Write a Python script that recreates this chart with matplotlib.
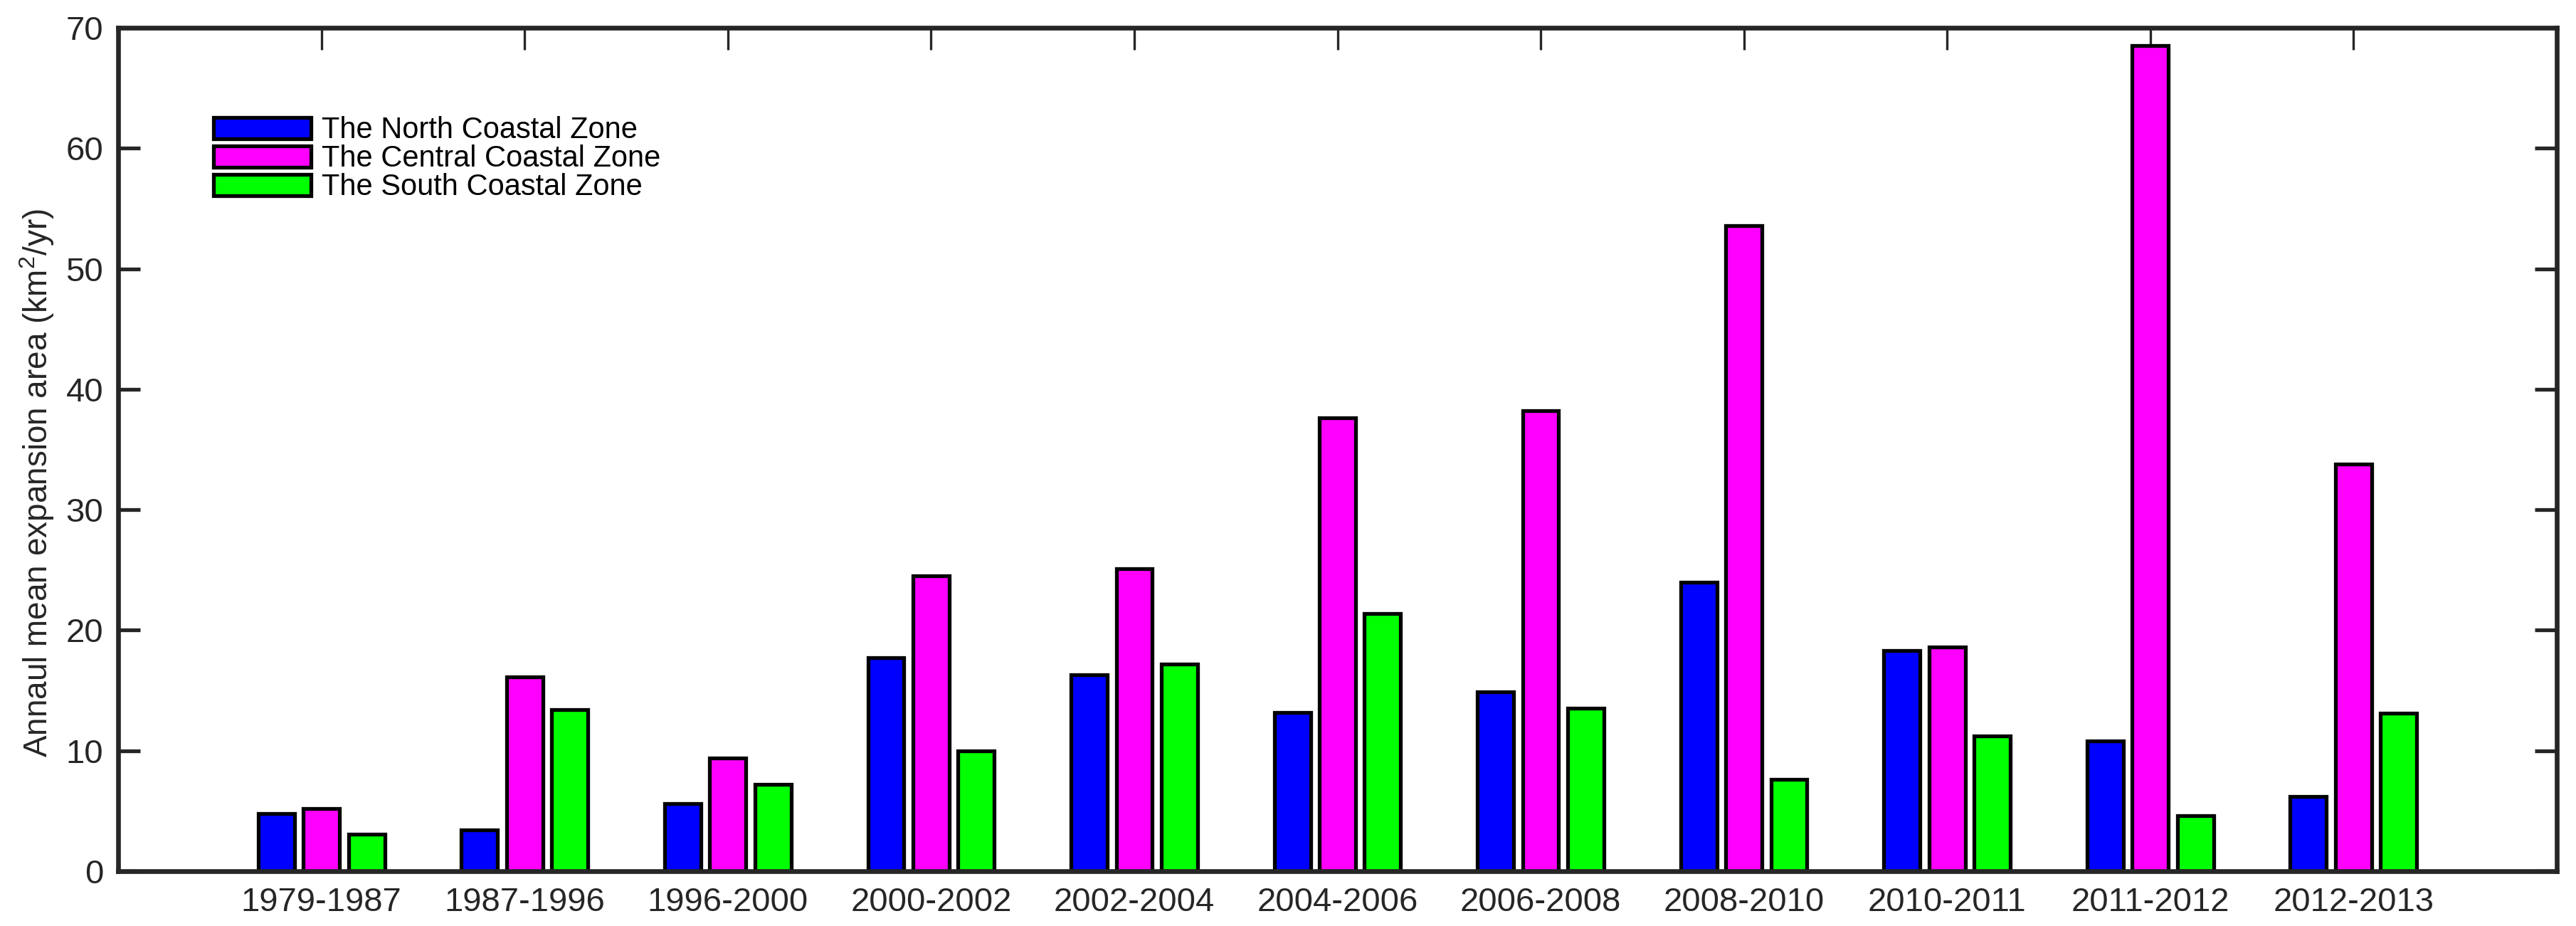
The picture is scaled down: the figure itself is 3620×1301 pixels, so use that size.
import matplotlib
matplotlib.use("Agg")
import matplotlib.pyplot as plt
import numpy as np

plt.rcParams['font.family'] = ['Liberation Sans', 'DejaVu Sans']
plt.rcParams['mathtext.fontset'] = 'custom'
plt.rcParams['mathtext.rm'] = 'Liberation Sans'
plt.rcParams['mathtext.it'] = 'Liberation Sans:italic'

# annual mean expansion area per period (km2/yr)
periods = ['1979-1987', '1987-1996', '1996-2000', '2000-2002', '2002-2004', '2004-2006',
           '2006-2008', '2008-2010', '2010-2011', '2011-2012', '2012-2013']
north = [4.8, 3.4, 5.6, 17.7, 16.3, 13.2, 14.9, 24.0, 18.3, 10.8, 6.2]
central = [5.2, 16.1, 9.4, 24.5, 25.1, 37.6, 38.2, 53.6, 18.6, 68.5, 33.8]
south = [3.1, 13.4, 7.2, 10.0, 17.2, 21.4, 13.5, 7.6, 11.2, 4.6, 13.1]
zones = ['The North Coastal Zone', 'The Central Coastal Zone', 'The South Coastal Zone']
cols = ['#0000ff', '#ff00ff', '#00ff00']

axcol = '#262626'

fig = plt.figure(figsize=(36.2, 13.01), dpi=100)
ax = fig.add_axes([0.0459, 0.0592, 0.9466, 0.9108])

x = np.arange(1, len(periods) + 1)
step = 0.222
w = 0.178
for k, (vals, c, lab) in enumerate(zip([north, central, south], cols, zones)):
    ax.bar(x + (k - 1) * step, vals, w, color=c, edgecolor='black', linewidth=3.8, label=lab, zorder=2)

ax.set_xlim(0, 12)
ax.set_ylim(0, 70)
ax.set_xticks(x)
ax.set_xticklabels(periods)
ax.set_yticks(np.arange(0, 71, 10))
ax.set_axisbelow(True)

for s in ax.spines.values():
    s.set_color(axcol)
    s.set_linewidth(4.8)
    s.set_zorder(3)

ax.tick_params(axis='x', direction='in', top=True, bottom=True, length=22, width=2.4,
               color=axcol, labelcolor=axcol, labelsize=34, pad=16)
ax.tick_params(axis='y', direction='in', left=True, right=True, length=22, width=3.8,
               color=axcol, labelcolor=axcol, labelsize=34, pad=15)

ax.set_ylabel('Annaul mean expansion area (km$^2$/yr)', fontsize=33, color=axcol)
ax.yaxis.set_label_coords(-0.0255, 0.46)

leg = ax.legend(loc='upper left', bbox_to_anchor=(0.039, 0.895), frameon=False, fontsize=30,
                handlelength=3.3, handleheight=0.75, handletextpad=0.35, labelspacing=0.0,
                borderpad=0, borderaxespad=0)

fig.savefig('out.png', dpi=100, facecolor='white')
